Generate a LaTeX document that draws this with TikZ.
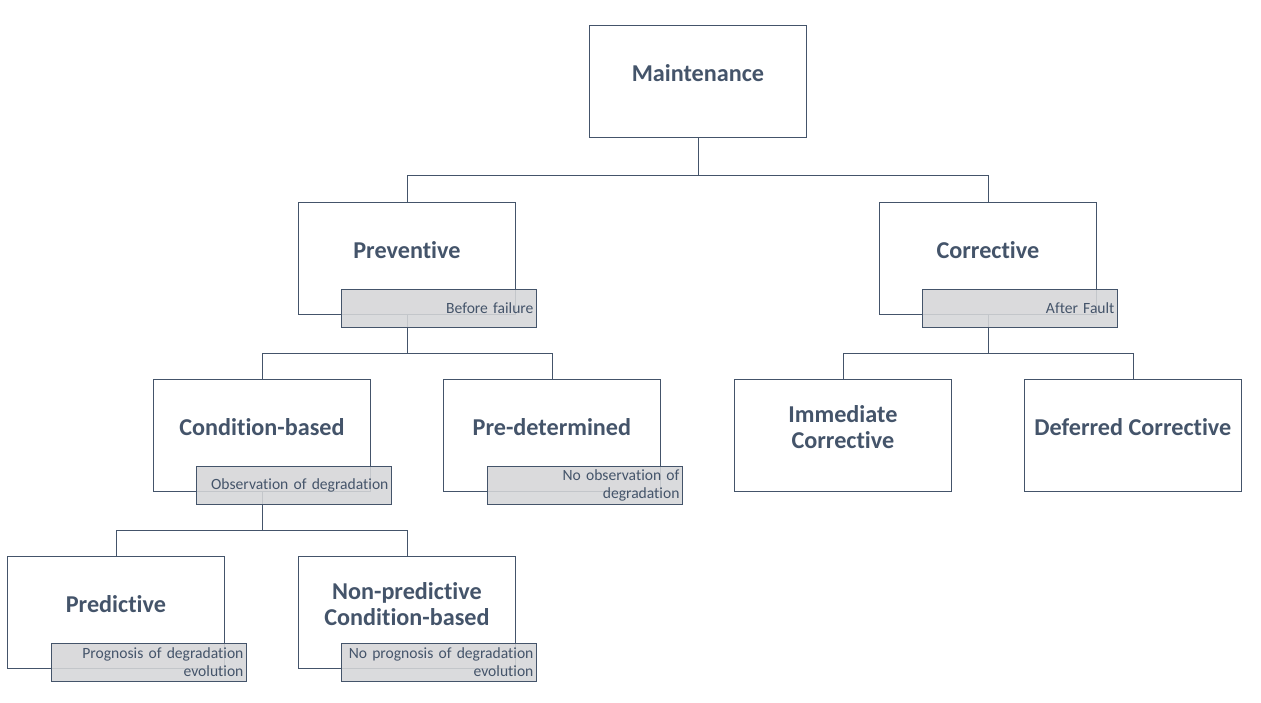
\documentclass[tikz,border=0pt]{standalone}
\usepackage{fontspec}
\setmainfont{Carlito}[Ligatures=NoCommon]
\definecolor{ink}{HTML}{44546A}
\definecolor{tagfill}{HTML}{D5D6D8}
\begin{document}
\begin{tikzpicture}[x=1pt,y=-1pt,
 box/.style={draw=ink, line width=0.9pt, fill=white, minimum width=217pt, minimum height=112pt, anchor=north west, inner sep=0pt},
 title/.style={text=ink, font=\fontsize{24.2}{26}\selectfont\bfseries, align=center},
 tag/.style={draw=ink, line width=0.9pt, fill=tagfill, fill opacity=0.88, text opacity=1, minimum width=195pt, minimum height=38pt, text width=189pt, align=right, inner xsep=3pt, inner ysep=0pt, font=\fontsize{15.6}{18}\selectfont, text=ink, anchor=north west},
 conn/.style={draw=ink, line width=0.9pt}]
\useasboundingbox (0,0) rectangle (1261,703);
% boxes
\node[box] (m) at (589,25) {};
\node[box] (prev) at (298,202) {};
\node[box] (corr) at (879,202) {};
\node[box] (cb) at (153,379) {};
\node[box] (pd) at (443,379) {};
\node[box] (imm) at (734,379) {};
\node[box] (def) at (1024,379) {};
\node[box] (pred) at (7,556) {};
\node[box] (npcb) at (298,556) {};
% titles
\node[title] (tm) at ([yshift=8pt]m.center) {Maintenance};
\node[title] (tprev) at ([yshift=8pt]prev.center) {Preventive};
\node[title] (tcorr) at ([yshift=8pt]corr.center) {Corrective};
\node[title] (tcb) at ([yshift=8pt]cb.center) {Condition-based};
\node[title] (tpd) at ([yshift=8pt]pd.center) {Pre-determined};
\node[title] (timm) at ([yshift=8pt]imm.center) {Immediate\\Corrective};
\node[title] (tdef) at ([yshift=8pt]def.center) {Deferred Corrective};
\node[title] (tpred) at ([yshift=8pt]pred.center) {Predictive};
\node[title] (tnpcb) at ([yshift=8pt]npcb.center) {Non-predictive\\Condition-based};
% connectors
\draw[conn] (m.south) -- ++(0,38) -| (prev.north);
\draw[conn] (m.south) -- ++(0,38) -| (corr.north);
\draw[conn] (prev.south) -- ++(0,39) -| (cb.north);
\draw[conn] (prev.south) -- ++(0,39) -| (pd.north);
\draw[conn] (corr.south) -- ++(0,39) -| (imm.north);
\draw[conn] (corr.south) -- ++(0,39) -| (def.north);
\draw[conn] (cb.south) -- ++(0,39) -| (pred.north);
\draw[conn] (cb.south) -- ++(0,39) -| (npcb.north);
% tags
\node[tag] (lprev) at (341,289) {Before failure};
\node[tag] (lcorr) at (922,289) {After Fault};
\node[tag] (lcb) at (196,466) {Observation of degradation};
\node[tag] (lpd) at (487,466) {No observation of\\degradation};
\node[tag] (lpred) at (51,643) {Prognosis of degradation\\evolution};
\node[tag] (lnpcb) at (341,643) {No prognosis of degradation\\evolution};
\end{tikzpicture}
\end{document}
